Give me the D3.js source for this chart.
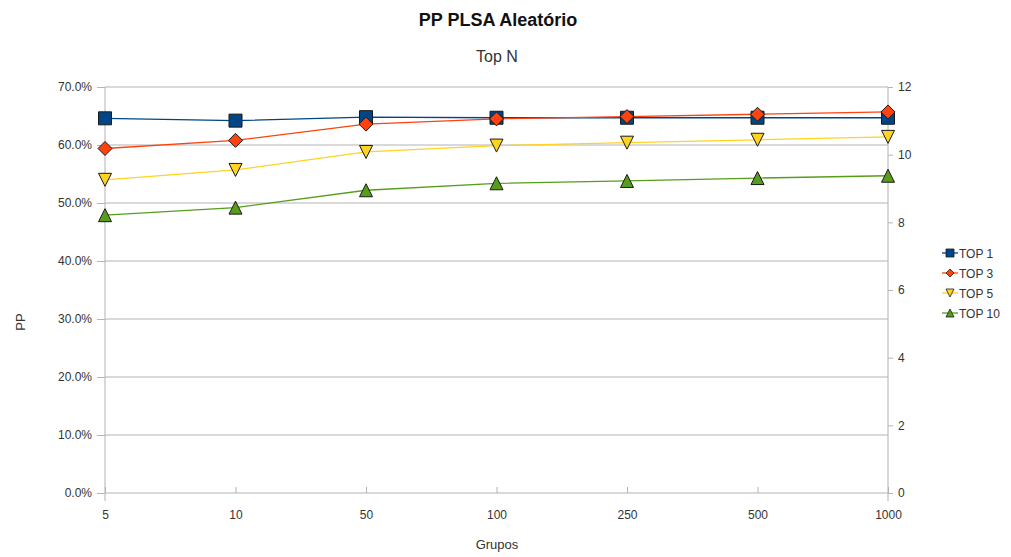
<!DOCTYPE html>
<html>
<head>
<meta charset="utf-8">
<script src="https://cdn.jsdelivr.net/npm/d3@7"></script>
<style>
  body { margin: 0; background: #fff; }
  svg { font-family: "Liberation Sans", Arial, sans-serif; }
  .axis text { fill: #333; font-size: 12px; }
  .axis path, .axis line { stroke: #b3b3b3; }
</style>
</head>
<body>
<div id="chart"></div>
<script>
// categories (x axis) and series
var grupos = ["5", "10", "50", "100", "250", "500", "1000"];
var top1  = [0.646, 0.642, 0.648, 0.647, 0.647, 0.647, 0.647];
var top3  = [0.594, 0.608, 0.636, 0.645, 0.649, 0.653, 0.657];
var top5  = [0.540, 0.557, 0.588, 0.599, 0.604, 0.609, 0.614];
var top10 = [0.479, 0.492, 0.522, 0.534, 0.538, 0.543, 0.547];
var leftTicks = [0, 0.1, 0.2, 0.3, 0.4, 0.5, 0.6, 0.7];
var rightTicks = [0, 2, 4, 6, 8, 10, 12];

var series = [
  { name: "TOP 1",  values: top1,  color: "#004586", shape: "square" },
  { name: "TOP 3",  values: top3,  color: "#ff420e", shape: "diamond" },
  { name: "TOP 5",  values: top5,  color: "#ffd320", shape: "down" },
  { name: "TOP 10", values: top10, color: "#579d1c", shape: "up" }
];

var W = 1011, H = 557;
var margin = { top: 87, right: 123, bottom: 64, left: 105 };
var width = W - margin.left - margin.right;
var height = H - margin.top - margin.bottom;

var svg = d3.select("#chart").append("svg")
  .attr("width", W).attr("height", H);

var x = d3.scalePoint().domain(grupos).range([0, width]).padding(0);
var y = d3.scaleLinear().domain([0, 0.7]).range([height, 0]);
var y2 = d3.scaleLinear().domain([0, 12]).range([height, 0]);

var g = svg.append("g")
  .attr("transform", "translate(" + margin.left + "," + margin.top + ")");

// grid lines
g.selectAll(".grid").data(leftTicks).enter().append("line")
  .attr("class", "grid")
  .attr("x1", 0).attr("x2", width)
  .attr("y1", function (d) { return y(d); })
  .attr("y2", function (d) { return y(d); })
  .attr("stroke", "#b3b3b3").attr("stroke-width", 1);

g.append("g").attr("class", "axis")
  .call(d3.axisLeft(y).tickValues(leftTicks).tickFormat(d3.format(".1%"))
    .tickSize(8).tickPadding(5).tickSizeOuter(0))
  .call(function (s) { s.select(".domain").remove(); });

g.append("g").attr("class", "axis")
  .attr("transform", "translate(" + width + ",0)")
  .call(d3.axisRight(y2).tickValues(rightTicks).tickSize(5).tickPadding(5).tickSizeOuter(0))
  .call(function (s) { s.select(".domain").remove(); });

// vertical axis lines, a little past the bottom
[0, width].forEach(function (xx) {
  g.append("line").attr("x1", xx).attr("x2", xx)
    .attr("y1", 0).attr("y2", height + 8)
    .attr("stroke", "#b3b3b3");
});

g.append("g").attr("class", "axis")
  .attr("transform", "translate(0," + height + ")")
  .call(d3.axisBottom(x).tickSizeInner(-6).tickSizeOuter(0).tickPadding(17))
  .call(function (s) { s.select(".domain").remove(); });

var line = d3.line()
  .x(function (d, i) { return x(grupos[i]); })
  .y(function (d) { return y(d); });

function shapePath(shape, s) {
  if (shape === "square") return "M" + (-s) + "," + (-s) + "H" + s + "V" + s + "H" + (-s) + "Z";
  if (shape === "diamond") return "M0," + (-s) + "L" + s + ",0L0," + s + "L" + (-s) + ",0Z";
  if (shape === "down") return "M" + (-s) + "," + (-s) + "L" + s + "," + (-s) + "L0," + s + "Z";
  return "M" + (-s) + "," + s + "L" + s + "," + s + "L0," + (-s) + "Z";
}

series.forEach(function (sr) {
  g.append("path")
    .attr("d", line(sr.values))
    .attr("fill", "none")
    .attr("stroke", sr.color)
    .attr("stroke-width", 1.3);
});
series.forEach(function (sr) {
  g.selectAll(null).data(sr.values).enter().append("path")
    .attr("transform", function (d, i) { return "translate(" + x(grupos[i]) + "," + y(d) + ")"; })
    .attr("d", shapePath(sr.shape, sr.shape === "diamond" ? 7 : 6.5))
    .attr("fill", sr.color)
    .attr("stroke", "#1a1a1a")
    .attr("stroke-width", 1);
});

// legend
var leg = svg.append("g").attr("transform", "translate(942,253)");
series.forEach(function (sr, i) {
  var row = leg.append("g").attr("transform", "translate(0," + (i * 20) + ")");
  row.append("line").attr("x1", 0).attr("x2", 16).attr("y1", 0).attr("y2", 0)
    .attr("stroke", sr.color).attr("stroke-width", 1.3);
  row.append("path").attr("transform", "translate(8,0)")
    .attr("d", shapePath(sr.shape, 4))
    .attr("fill", sr.color).attr("stroke", "#1a1a1a").attr("stroke-width", 0.8);
  row.append("text").attr("x", 17).attr("y", 4.5)
    .attr("font-size", 12).attr("fill", "#333").text(sr.name);
});

// titles
svg.append("text").attr("x", 498).attr("y", 26).attr("text-anchor", "middle")
  .attr("font-size", 18).attr("font-weight", "bold").attr("fill", "#111")
  .text("PP PLSA Aleatório");
svg.append("text").attr("x", 497).attr("y", 62).attr("text-anchor", "middle")
  .attr("font-size", 16).attr("fill", "#333").text("Top N");
svg.append("text").attr("x", 497).attr("y", 549).attr("text-anchor", "middle")
  .attr("font-size", 13).attr("fill", "#333").text("Grupos");
svg.append("text").attr("transform", "translate(25,322) rotate(-90)")
  .attr("text-anchor", "middle")
  .attr("font-size", 13).attr("fill", "#333").text("PP");
</script>
</body>
</html>
